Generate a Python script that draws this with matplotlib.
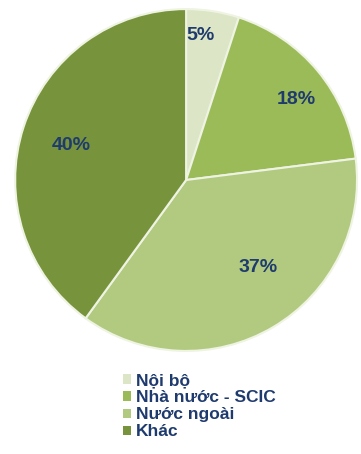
import numpy as np
import matplotlib
matplotlib.use('Agg')
import matplotlib.pyplot as plt
from matplotlib.patches import Patch

labels = ['Nội bộ', 'Nhà nước - SCIC', 'Nước ngoài', 'Khác']
values = [5, 18, 37, 40]
colors = ['#dce6c6', '#9bbb59', '#b1ca80', '#77933c']

plt.rcParams['font.family'] = ['Liberation Sans', 'DejaVu Sans']

fig = plt.figure(figsize=(3.61, 4.54), dpi=100)
ax = fig.add_axes([0.042, 0.227, 0.947, 0.753])
wedges, texts, autotexts = ax.pie(values, colors=colors, startangle=90, counterclock=False,
                                  autopct='%d%%', pctdistance=0.75,
                                  wedgeprops=dict(edgecolor='#eef3e2', linewidth=1.5),
                                  textprops=dict(fontsize=14, fontweight='bold', color='#1f3b6e'))
# vị trí nhãn: bán kính và lệch góc (độ)
dist = [0.85, 0.8, 0.665, 0.7]
shift = [3.5, -3.6, 8.7, 1.0]
for t, d, s in zip(autotexts, dist, shift):
    x, y = t.get_position()
    a = np.arctan2(y, x) + np.deg2rad(s)
    t.set_position((d * np.cos(a), d * np.sin(a)))
ax.set_xlim(-1, 1)
ax.set_ylim(-1, 1)
ax.set_aspect('equal')
ax.axis('off')

handles = [Patch(facecolor=c, edgecolor='none') for c in colors]
fig.legend(handles, labels, loc='upper left', bbox_to_anchor=(0.34, 0.178),
           frameon=False, handlelength=0.45, handleheight=0.45, handletextpad=0.3,
           labelspacing=0.12, borderpad=0, borderaxespad=0,
           prop=dict(size=12.5, weight='bold'), labelcolor='#1f3b6e')

fig.savefig('out.png', dpi=100)
